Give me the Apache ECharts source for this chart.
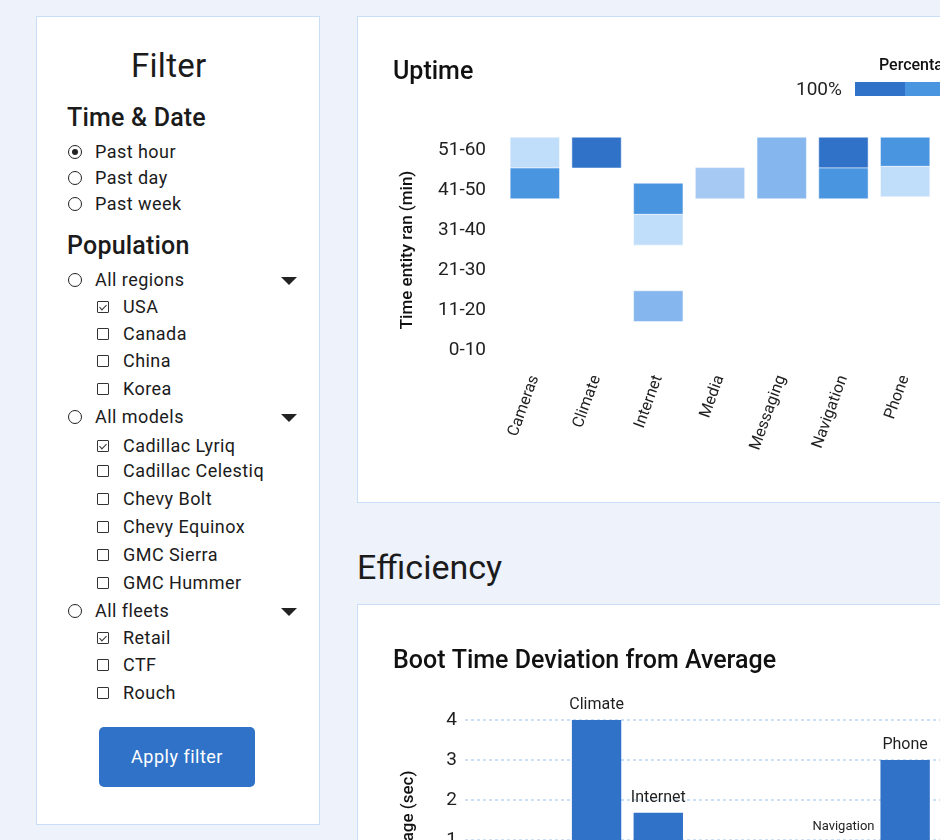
<!DOCTYPE html>
<html>
<head>
<meta charset="utf-8">
<script src="https://cdn.jsdelivr.net/npm/echarts@6/dist/echarts.min.js"></script>
<style>
  html, body { margin: 0; padding: 0; width: 940px; height: 840px; overflow: hidden; }
  body { background: #edf2fb; font-family: Roboto, "Noto Sans", sans-serif; color: #1b1b1b; position: relative; }
  .card { position: absolute; background: #fff; border: 1px solid #c9ddf6; box-sizing: border-box; }
  .row { position: absolute; height: 24px; line-height: 24px; font-size: 18px; white-space: nowrap; letter-spacing: 0.45px; }
  .radio { position: absolute; width: 14px; height: 14px; border: 1.5px solid #222; border-radius: 50%; box-sizing: border-box; left: 68px; margin-top: -7px; }
  .radio.on::after { content: ''; position: absolute; left: 2.5px; top: 2.5px; width: 6px; height: 6px; border-radius: 50%; background: #222; }
  .box { position: absolute; width: 12px; height: 12px; border: 1.5px solid #333; box-sizing: border-box; left: 97px; margin-top: -6px; border-radius: 1px; }
  .box.on::after { content: ''; position: absolute; left: 3px; top: 0.5px; width: 3px; height: 6px; border: solid #333; border-width: 0 1.5px 1.5px 0; transform: rotate(45deg); }
  .tri { position: absolute; left: 281px; width: 0; height: 0; border-left: 8px solid transparent; border-right: 8px solid transparent; border-top: 8px solid #222; margin-top: -3px; }
  h1, h2 { margin: 0; position: absolute; font-weight: 400; white-space: nowrap; }
</style>
</head>
<body>
<div class="card" style="left:36px; top:16px; width:284px; height:809px;"></div>
<h1 style="left:131px; top:46px; font-size:33px; line-height:40px; letter-spacing:0.3px;">Filter</h1>
<h2 style="left:67px; top:104px; font-size:25px; line-height:28px; font-weight:500; letter-spacing:0.2px;">Time &amp; Date</h2>
<h2 style="left:67px; top:232px; font-size:25px; line-height:28px; font-weight:500; letter-spacing:0.2px;">Population</h2>
<div id="filters"></div>
<div style="position:absolute; left:99px; top:727px; width:156px; height:60px; background:#3072c8; border-radius:5px; color:#fff; font-size:18px; line-height:60px; text-align:center; letter-spacing:0.5px;">Apply filter</div>

<div class="card" style="left:357px; top:16px; width:700px; height:487px;"></div>
<div id="uptime" style="position:absolute; left:357px; top:16px; width:700px; height:486px;"></div>
<h1 style="left:357px; top:547px; font-size:34px; line-height:40px;">Efficiency</h1>
<div class="card" style="left:357px; top:604px; width:700px; height:500px;"></div>
<div id="boot" style="position:absolute; left:357px; top:604px; width:700px; height:500px;"></div>

<script>
// filter panel: [label, kind, checked, y centre]
var filterRows = [
  ['Past hour', 'radio', true, 152], ['Past day', 'radio', false, 178], ['Past week', 'radio', false, 204],
  ['All regions', 'group', false, 280], ['USA', 'box', true, 307], ['Canada', 'box', false, 334],
  ['China', 'box', false, 361], ['Korea', 'box', false, 389],
  ['All models', 'group', false, 417], ['Cadillac Lyriq', 'box', true, 446], ['Cadillac Celestiq', 'box', false, 471],
  ['Chevy Bolt', 'box', false, 499], ['Chevy Equinox', 'box', false, 527], ['GMC Sierra', 'box', false, 555],
  ['GMC Hummer', 'box', false, 583],
  ['All fleets', 'group', false, 611], ['Retail', 'box', true, 638], ['CTF', 'box', false, 665], ['Rouch', 'box', false, 693]
];

var features = ['Cameras', 'Climate', 'Internet', 'Media', 'Messaging', 'Navigation', 'Phone'];
var timeBins = ['0-10', '11-20', '21-30', '31-40', '41-50', '51-60'];

// uptime cells: feature index, start / end of time ran (min), percentage
var cellFeature = [0, 0, 1, 2, 2, 2, 3, 4, 5, 5, 6, 6];
var cellFrom = [50.5, 42.8, 50.5, 38.9, 31.2, 12.1, 42.8, 42.8, 50.5, 42.8, 50.9, 43.3];
var cellTo = [58.2, 50.5, 58.2, 46.7, 38.9, 19.8, 50.6, 58.2, 58.2, 50.5, 58.2, 50.9];
var cellPct = [20, 80, 100, 80, 20, 60, 40, 60, 100, 80, 80, 20];

var pctLevels = [20, 40, 60, 80, 100];
var pctColors = ['#c0ddfa', '#a5c9f2', '#85b6ee', '#4a95e0', '#3072c8'];

// boot time deviation from average (sec)
var bootDeviation = [-1.5, 4, 1.68, -2, -1, 1, 3];

var html = '';
filterRows.forEach(function (r) {
  var kind = r[1], y = r[3];
  if (kind === 'box') {
    html += '<div class="box' + (r[2] ? ' on' : '') + '" style="top:' + y + 'px"></div>';
    html += '<div class="row" style="left:123px; top:' + (y - 12) + 'px">' + r[0] + '</div>';
  } else {
    html += '<div class="radio' + (r[2] ? ' on' : '') + '" style="top:' + y + 'px"></div>';
    html += '<div class="row" style="left:95px; top:' + (y - 12) + 'px">' + r[0] + '</div>';
    if (kind === 'group') html += '<div class="tri" style="top:' + y + 'px"></div>';
  }
});
document.getElementById('filters').innerHTML = html;

var font = 'Roboto';
var textColor = '#1f1f1f';

var uptimeChart = echarts.init(document.getElementById('uptime'));
uptimeChart.setOption({
  textStyle: { fontFamily: font },
  title: [
    { text: 'Uptime', left: 36, top: 44, padding: 0, textStyle: { fontSize: 25, fontWeight: 500, color: '#111', fontFamily: font } },
    { text: 'Percentage', left: 522, top: 42, padding: 0, textStyle: { fontSize: 16, fontWeight: 500, color: '#111', fontFamily: font } },
    { text: '100%', left: 439, top: 65, padding: 0, textStyle: { fontSize: 19, fontWeight: 400, color: textColor, fontFamily: font } }
  ],
  visualMap: {
    type: 'piecewise',
    orient: 'horizontal',
    inverse: true,
    dimension: 3,
    seriesIndex: 0,
    left: 498,
    top: 66,
    padding: 0,
    itemWidth: 50,
    itemHeight: 14,
    itemGap: 0,
    itemSymbol: 'rect',
    showLabel: false,
    pieces: pctLevels.map(function (v, i) { return { value: v, color: pctColors[i] }; })
  },
  grid: { left: 147, top: 114, width: 432, height: 240 },
  xAxis: {
    type: 'category',
    data: features,
    axisLine: { show: false },
    axisTick: { show: false },
    axisLabel: { rotate: 70, fontSize: 16, color: textColor, margin: 6, fontFamily: font }
  },
  yAxis: [
    {
      type: 'category',
      data: timeBins,
      name: 'Time entity ran (min)',
      nameLocation: 'middle',
      nameRotate: 90,
      nameGap: 88,
      nameTextStyle: { fontSize: 17, fontWeight: 500, color: '#111', fontFamily: font },
      axisLine: { show: false },
      axisTick: { show: false },
      axisLabel: { fontSize: 19, color: textColor, margin: 18, fontFamily: font }
    },
    { type: 'value', min: 0, max: 60, show: false }
  ],
  series: [{
    type: 'custom',
    yAxisIndex: 1,
    encode: { x: 0, y: [1, 2] },
    data: cellFeature.map(function (f, i) { return [f, cellFrom[i], cellTo[i], cellPct[i]]; }),
    renderItem: function (params, api) {
      var x = api.value(0);
      var top = api.coord([x, api.value(2)]);
      var bottom = api.coord([x, api.value(1)]);
      var w = api.size([1, 0])[0] * 0.8;
      return {
        type: 'rect',
        shape: { x: top[0] - w / 2, y: top[1], width: w, height: bottom[1] - top[1] },
        style: { fill: api.visual('color'), stroke: 'rgba(255,255,255,0.5)', lineWidth: 1 }
      };
    }
  }]
});

var bootChart = echarts.init(document.getElementById('boot'));
bootChart.setOption({
  textStyle: { fontFamily: font },
  title: { text: 'Boot Time Deviation from Average', left: 36, top: 45, padding: 0, textStyle: { fontSize: 25, fontWeight: 500, color: '#111', fontFamily: font } },
  grid: [
    { left: 108, top: 116, width: 600, height: 320 },
    { left: 147, top: 116, width: 432, height: 320 }
  ],
  xAxis: [
    { type: 'value', gridIndex: 0, show: false },
    { type: 'category', gridIndex: 1, data: features, show: false }
  ],
  yAxis: [
    {
      type: 'value', gridIndex: 0, min: -4, max: 4, interval: 1,
      name: 'Deviation from average (sec)',
      nameLocation: 'middle',
      nameRotate: 90,
      nameGap: 48,
      nameTextStyle: { fontSize: 17, fontWeight: 500, color: '#111', fontFamily: font },
      axisLine: { show: false },
      axisTick: { show: false },
      axisLabel: { fontSize: 19, color: textColor, margin: 8, fontFamily: font },
      splitLine: { lineStyle: { color: '#bcd6f5', width: 1.5, type: [3, 3] } }
    },
    { type: 'value', gridIndex: 1, min: -4, max: 4, show: false }
  ],
  series: [{
    type: 'bar',
    xAxisIndex: 1,
    yAxisIndex: 1,
    barWidth: '80%',
    itemStyle: { color: '#3072c8' },
    label: { show: true, position: 'top', distance: 7, formatter: '{b}', fontSize: 16, color: textColor, fontFamily: font },
    data: bootDeviation.map(function (v, i) {
      return features[i] === 'Navigation' ? { value: v, label: { fontSize: 13 } } : v;
    })
  }]
});
</script>
</body>
</html>
